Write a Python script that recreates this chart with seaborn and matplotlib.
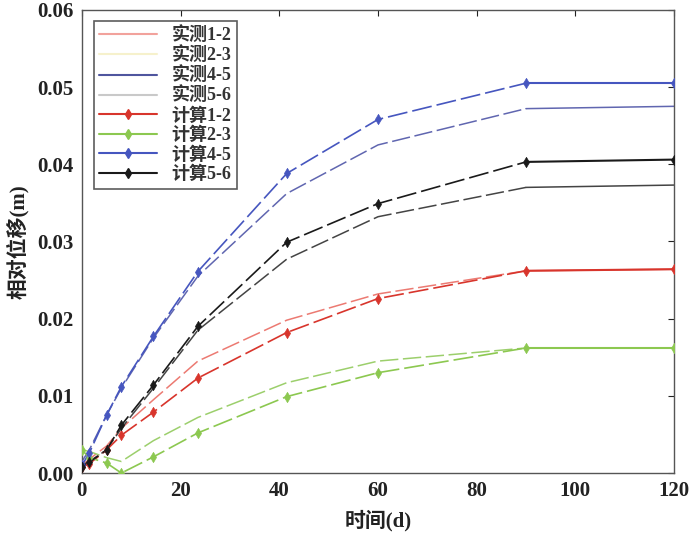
import numpy as np
import pandas as pd
import matplotlib
matplotlib.use('Agg')
import matplotlib.pyplot as plt
import seaborn as sns
from matplotlib.lines import Line2D

sns.set_theme(style='white')
plt.rcParams['font.family'] = ['Liberation Serif', 'Noto Sans CJK SC']

# time (d)
t = [0, 1.5, 5, 8, 14.5, 23.5, 41.5, 60, 90, 120]

# measured (实测)
meas_12 = [0.0010, 0.0018, 0.0035, 0.0058, 0.0095, 0.0145, 0.0198, 0.0232, 0.0262, 0.0264]
meas_23 = [0.0030, 0.0028, 0.0020, 0.0015, 0.0042, 0.0072, 0.0117, 0.0145, 0.0162, 0.0162]
meas_45 = [0.0015, 0.0030, 0.0075, 0.0110, 0.0175, 0.0255, 0.0362, 0.0425, 0.0472, 0.0475]
meas_56 = [0.0010, 0.0015, 0.0030, 0.0058, 0.0110, 0.0185, 0.0277, 0.0332, 0.0370, 0.0373]

# computed (计算)
calc_12 = [0.0008, 0.0012, 0.0030, 0.0049, 0.0079, 0.0123, 0.0182, 0.0226, 0.0262, 0.0264]
calc_23 = [0.0030, 0.0020, 0.0013, 0.0000, 0.0021, 0.0052, 0.0099, 0.0130, 0.0162, 0.0162]
calc_45 = [0.0010, 0.0026, 0.0075, 0.0112, 0.0177, 0.0261, 0.0388, 0.0458, 0.0505, 0.0505]
calc_56 = [0.0008, 0.0014, 0.0030, 0.0062, 0.0114, 0.0190, 0.0299, 0.0349, 0.0403, 0.0406]

meas_names = ['实测1-2', '实测2-3', '实测4-5', '实测5-6']
calc_names = ['计算1-2', '计算2-3', '计算4-5', '计算5-6']

meas_line_colors = ['#ec7a72', '#9ccf6c', '#6066b0', '#444444']
meas_legend_colors = ['#f2a29c', '#f6f1cc', '#4f559e', '#c9c9c9']
calc_colors = ['#d8352c', '#8cc850', '#4656bf', '#1a1a1a']

fig, ax = plt.subplots(figsize=(7, 5.45), dpi=100)
fig.subplots_adjust(left=0.117, right=0.963, top=0.982, bottom=0.132)

t_arr = np.array(t)
split = t_arr <= 90
tail = t_arr >= 90

for vals, col in zip([meas_12, meas_23, meas_45, meas_56], meas_line_colors):
    v = np.array(vals)
    sns.lineplot(x=t_arr[split], y=v[split], ax=ax, color=col, lw=1.1,
                 linestyle=(0, (12, 3)), legend=False)
    sns.lineplot(x=t_arr[tail], y=v[tail], ax=ax, color=col, lw=1.1, legend=False)

for vals, col in zip([calc_12, calc_23, calc_45, calc_56], calc_colors):
    v = np.array(vals)
    sns.lineplot(x=t_arr[split], y=v[split], ax=ax, color=col, lw=1.2,
                 linestyle=(0, (12, 3)), legend=False)
    sns.lineplot(x=t_arr[tail], y=v[tail], ax=ax, color=col, lw=1.5, legend=False)
    sns.scatterplot(x=t_arr, y=v, ax=ax, color=col, marker='d', s=28,
                    edgecolor=col, legend=False, zorder=5)

ax.set_xlim(0, 120)
ax.set_ylim(0, 0.06)
ax.set_xticks([0, 20, 40, 60, 80, 100, 120])
ax.set_yticks([0, 0.01, 0.02, 0.03, 0.04, 0.05, 0.06])
ax.yaxis.set_major_formatter(matplotlib.ticker.FormatStrFormatter('%.2f'))
ax.tick_params(direction='in', top=True, right=True, length=4, width=0.8,
               labelsize=15, colors='#222222', pad=6)
for lab in ax.get_xticklabels() + ax.get_yticklabels():
    lab.set_fontweight('bold')
for sp in ax.spines.values():
    sp.set_color('#555555')
    sp.set_linewidth(1.0)

ax.set_xlabel('时间(d)', fontsize=15, fontweight='bold', color='#222222', labelpad=6)
ax.set_ylabel('相对位移(m)', fontsize=15, fontweight='bold', color='#222222', labelpad=6)

handles = []
for n, c in zip(meas_names, meas_legend_colors):
    handles.append(Line2D([], [], color=c, lw=1.5, label=n))
for n, c in zip(calc_names, calc_colors):
    handles.append(Line2D([], [], color=c, lw=1.5, marker='d', markersize=5, label=n))
leg = ax.legend(handles=handles, loc='upper left', fontsize=13, frameon=True,
                fancybox=False, edgecolor='#333333', borderpad=0.3,
                labelspacing=0.12, handlelength=3.2, bbox_to_anchor=(0.005, 0.995))
leg.get_frame().set_linewidth(1.2)
for txt in leg.get_texts():
    txt.set_fontweight('bold')
    txt.set_color('#333333')

fig.savefig('out.png', dpi=100)
